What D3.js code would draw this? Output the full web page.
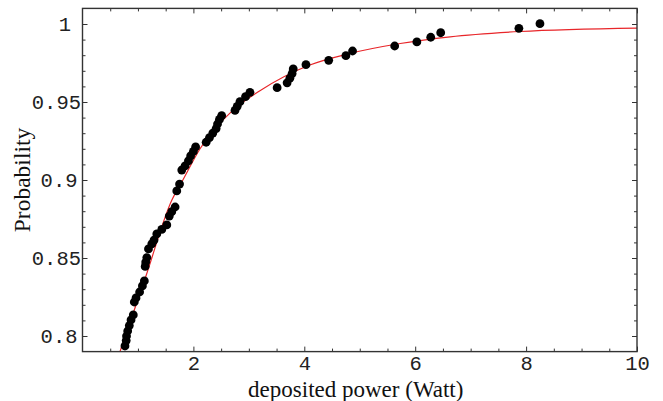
<!DOCTYPE html>
<html>
<head>
<meta charset="utf-8">
<script src="https://cdn.jsdelivr.net/npm/d3@7"></script>
<style>
  html, body { margin: 0; padding: 0; background: #fff; }
  svg { display: block; }
</style>
</head>
<body>
<svg id="chart" width="663" height="401"></svg>
<script>
// ---- data ----
const pointX = [8.25, 7.87, 6.46, 6.28, 6.03, 5.63, 4.87, 4.75, 4.44, 4.03,
  3.80, 3.78, 3.74, 3.69, 3.51, 3.02, 2.94, 2.84, 2.79, 2.75,
  2.51, 2.47, 2.435, 2.41, 2.35, 2.29, 2.23, 2.04, 2.00, 1.95,
  1.91, 1.85, 1.79, 1.75, 1.70, 1.67, 1.61, 1.565, 1.52, 1.43,
  1.34, 1.29, 1.25, 1.19, 1.16, 1.14, 1.13, 1.115, 1.08, 1.03,
  0.965, 0.934, 0.916, 0.875, 0.844, 0.815, 0.794, 0.788, 0.766];
const pointY = [1.0002, 0.9972, 0.9944, 0.9915, 0.9885, 0.9859, 0.9827, 0.9797, 0.9767, 0.9739,
  0.9712, 0.9682, 0.9653, 0.9623, 0.9592, 0.9562, 0.9534, 0.9502, 0.9472, 0.9446,
  0.9413, 0.9388, 0.9359, 0.9330, 0.9301, 0.9272, 0.9242, 0.9212, 0.9183, 0.9154,
  0.9122, 0.9090, 0.9064, 0.8974, 0.8930, 0.8827, 0.8797, 0.8769, 0.8712, 0.8683,
  0.8654, 0.8615, 0.8590, 0.8558, 0.8503, 0.8474, 0.8446, 0.8353, 0.8321, 0.8282,
  0.8244, 0.8218, 0.8135, 0.8103, 0.8067, 0.8032, 0.8000, 0.7971, 0.7936];

const curveX = [0.676, 1.14, 1.61, 1.81, 2.12, 2.71, 3.20, 4.10, 4.82, 5.73, 6.63, 7.89, 10.0];
const curveY = [0.790, 0.838, 0.887, 0.900, 0.920, 0.9446, 0.9572, 0.9737, 0.9811, 0.9875, 0.9918, 0.9952, 0.9974];

const xMajorTicks = [2, 4, 6, 8, 10];
const xTickLabels = ["2", "4", "6", "8", "10"];
const yMajorTicks = [0.8, 0.85, 0.9, 0.95, 1.0];
const yTickLabels = ["0.8", "0.85", "0.9", "0.95", "1"];

const xTitle = "deposited power (Watt)";
const yTitle = "Probability";

// ---- layout ----
const L = 82.5, R = 637, T = 8.4, B = 351.6;
const svg = d3.select("#chart");

const x = d3.scaleLinear().domain([0, 10]).range([L, R]);
const y = d3.scaleLinear().domain([0.79, 1.01]).range([B, T]);

const xMinor = d3.range(0.5, 10, 0.5).filter(v => !xMajorTicks.includes(v));
const yMinor = d3.range(80, 101, 1).map(v => v / 100).filter(v => !yMajorTicks.some(m => Math.abs(m - v) < 1e-9));

const tickColor = "#333";
const monoFont = "'Liberation Mono', 'Courier New', monospace";

function styleAxis(g) {
  g.select(".domain").remove();
  g.selectAll(".tick line").attr("stroke", tickColor).attr("stroke-width", 1);
  g.selectAll(".tick text").attr("fill", "#222").style("font-family", monoFont).style("font-size", "20.5px");
}

// minor ticks on all sides
svg.append("g").attr("transform", `translate(0,${B})`)
  .call(d3.axisBottom(x).tickValues(xMinor).tickSize(-3).tickFormat("")).call(styleAxis);
svg.append("g").attr("transform", `translate(0,${T})`)
  .call(d3.axisTop(x).tickValues(xMinor).tickSize(-3).tickFormat("")).call(styleAxis);
svg.append("g").attr("transform", `translate(${L},0)`)
  .call(d3.axisLeft(y).tickValues(yMinor).tickSize(-3).tickFormat("")).call(styleAxis);
svg.append("g").attr("transform", `translate(${R},0)`)
  .call(d3.axisRight(y).tickValues(yMinor).tickSize(-3).tickFormat("")).call(styleAxis);

// major ticks with labels (bottom/left), mirrored (top/right)
svg.append("g").attr("transform", `translate(0,${B})`)
  .call(d3.axisBottom(x).tickValues(xMajorTicks).tickSizeInner(-5).tickSizeOuter(0).tickPadding(3.8)
    .tickFormat((d, i) => xTickLabels[i])).call(styleAxis);
svg.append("g").attr("transform", `translate(0,${T})`)
  .call(d3.axisTop(x).tickValues(xMajorTicks).tickSize(-5).tickFormat("")).call(styleAxis);
const yAx = svg.append("g").attr("transform", `translate(${L},0)`)
  .call(d3.axisLeft(y).tickValues(yMajorTicks).tickSizeInner(-5).tickSizeOuter(0).tickPadding(1.5)
    .tickFormat((d, i) => yTickLabels[i])).call(styleAxis);
// the reference sets shorter labels slightly further left
yAx.selectAll(".tick text").attr("dx", function () {
  const n = this.textContent.length;
  return n === 1 ? -10 : (n === 3 ? -3.5 : 0);
});
svg.append("g").attr("transform", `translate(${R},0)`)
  .call(d3.axisRight(y).tickValues(yMajorTicks).tickSize(-5).tickFormat("")).call(styleAxis);

// clip
svg.append("defs").append("clipPath").attr("id", "plotclip")
  .append("rect").attr("x", L).attr("y", T).attr("width", R - L).attr("height", B - T);

const plot = svg.append("g").attr("clip-path", "url(#plotclip)");

// fitted curve
const curveData = curveX.map((v, i) => [v, curveY[i]]);
plot.append("path")
  .datum(curveData)
  .attr("fill", "none")
  .attr("stroke", "#e8262a")
  .attr("stroke-width", 1.2)
  .attr("d", d3.line().x(d => x(d[0])).y(d => y(d[1])).curve(d3.curveMonotoneX));

// points
const pts = pointX.map((v, i) => [v, pointY[i]]);
plot.selectAll("circle.pt").data(pts).enter().append("circle")
  .attr("class", "pt")
  .attr("cx", d => x(d[0]))
  .attr("cy", d => y(d[1]))
  .attr("r", 4.4)
  .attr("fill", "#000");

// frame
svg.append("rect")
  .attr("x", L).attr("y", T).attr("width", R - L).attr("height", B - T)
  .attr("fill", "none").attr("stroke", "#333").attr("stroke-width", 1.4);

// titles
svg.append("text")
  .attr("x", (L + R) / 2 - 4).attr("y", 397)
  .attr("text-anchor", "middle")
  .style("font-family", "'Liberation Serif', 'Times New Roman', serif")
  .style("font-size", "23px")
  .attr("fill", "#111")
  .text(xTitle);

svg.append("text")
  .attr("transform", `translate(30,${(T + B) / 2}) rotate(-90)`)
  .attr("text-anchor", "middle")
  .style("font-family", "'Liberation Serif', 'Times New Roman', serif")
  .style("font-size", "23.5px")
  .attr("fill", "#111")
  .text(yTitle);
</script>
</body>
</html>
